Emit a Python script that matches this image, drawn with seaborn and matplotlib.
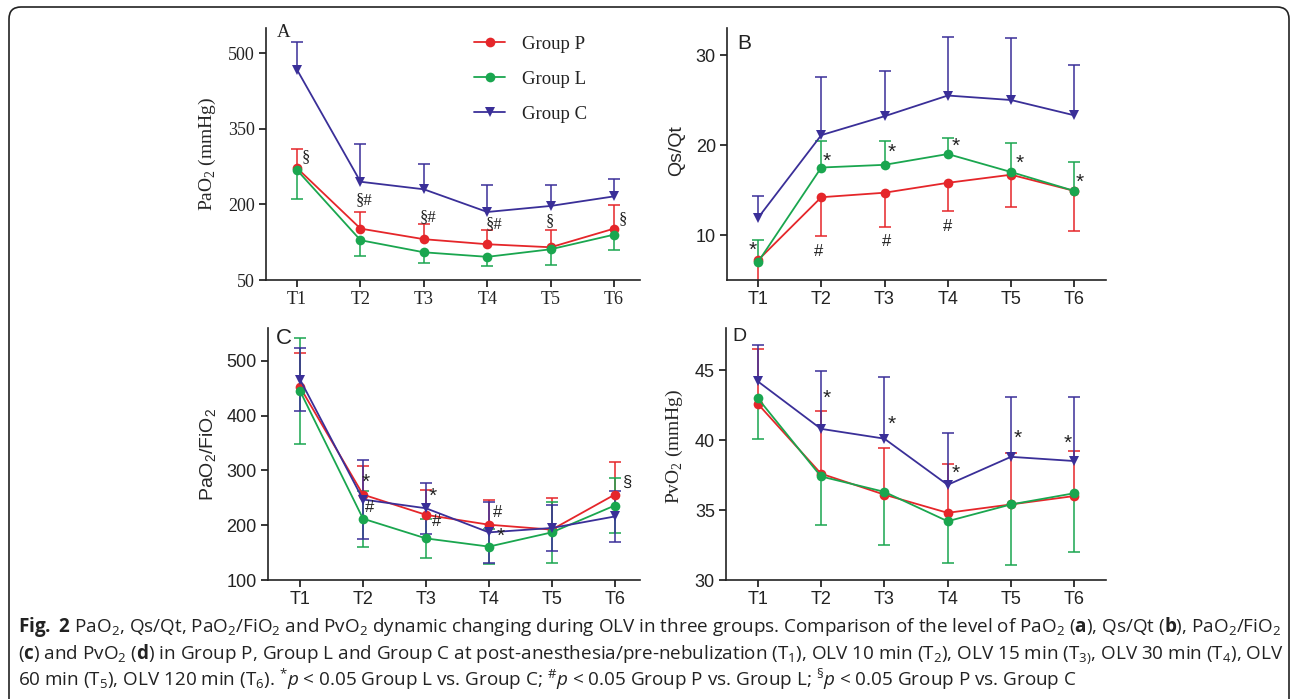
import numpy as np
import pandas as pd
import matplotlib
matplotlib.use("Agg")
import matplotlib.pyplot as plt
import seaborn as sns
from matplotlib.patches import FancyBboxPatch

times = ["T1", "T2", "T3", "T4", "T5", "T6"]
groups = ["Group P", "Group L", "Group C"]

# A: PaO2 (mmHg)
pao2_p = [272, 152, 131, 121, 115, 152]
pao2_l = [268, 129, 105, 96, 111, 140]
pao2_c = [467, 245, 230, 185, 197, 216]
pao2_p_sd = [37, 32, 30, 28, 35, 46]
pao2_l_sd = [58, 32, 21, 19, 32, 30]
pao2_c_sd = [56, 74, 50, 54, 41, 34]

# B: Qs/Qt
qsqt_p = [7.2, 14.2, 14.7, 15.8, 16.7, 14.9]
qsqt_l = [7.0, 17.5, 17.8, 19.0, 17.0, 14.9]
qsqt_c = [11.9, 21.1, 23.2, 25.5, 25.0, 23.3]
qsqt_p_sd = [2.5, 4.3, 3.8, 3.1, 3.6, 4.4]
qsqt_l_sd = [2.4, 2.9, 2.6, 1.8, 3.2, 3.2]
qsqt_c_sd = [2.4, 6.5, 5.0, 6.5, 6.9, 5.6]

# C: PaO2/FiO2
pf_p = [452, 256, 219, 201, 192, 256]
pf_l = [445, 212, 176, 161, 187, 236]
pf_c = [466, 247, 231, 187, 195, 216]
pf_p_sd = [62, 52, 46, 45, 58, 59]
pf_l_sd = [96, 51, 36, 32, 55, 51]
pf_c_sd = [58, 72, 47, 55, 42, 46]

# D: PvO2 (mmHg)
pvo2_p = [42.6, 37.6, 36.1, 34.8, 35.4, 36.0]
pvo2_l = [43.0, 37.4, 36.3, 34.2, 35.4, 36.2]
pvo2_c = [44.2, 40.8, 40.1, 36.8, 38.8, 38.5]
pvo2_p_sd = [3.9, 4.5, 3.3, 3.5, 3.7, 3.2]
pvo2_l_sd = [2.9, 3.5, 3.8, 3.0, 4.3, 4.2]
pvo2_c_sd = [2.6, 4.1, 4.4, 3.7, 4.3, 4.6]

# significance marks: (x position in time steps, y value, text)
marks_a = [(0.13, 294, "§"), (1.06, 209, "§#"), (2.07, 175, "§#"),
           (3.11, 161, "§#"), (3.99, 167, "§"), (5.14, 171, "§")]
marks_b = [(-0.08, 8.3, "*"), (0.95, 8.2, "#"), (2.03, 9.3, "#"), (3.0, 11.0, "#"),
           (1.09, 18.2, "*"), (2.12, 19.2, "*"), (3.12, 19.9, "*"),
           (4.13, 18.0, "*"), (5.09, 15.9, "*")]
marks_c = [(1.05, 278, "*"), (1.11, 232, "#"), (2.11, 252, "*"), (2.17, 206, "#"),
           (3.14, 223, "#"), (3.19, 179, "*"), (5.19, 278, "§")]
marks_d = [(1.09, 43.0, "*"), (2.11, 41.1, "*"), (3.12, 37.6, "*"),
           (4.10, 40.1, "*"), (4.90, 39.8, "*")]

palette = {"Group P": "#e5262a", "Group L": "#1aa64f", "Group C": "#3a2f98"}
markers = {"Group P": "o", "Group L": "o", "Group C": "v"}

sns.set_style("ticks")
plt.rcParams["mathtext.fontset"] = "custom"
plt.rcParams["mathtext.rm"] = "Open Sans"
plt.rcParams["mathtext.it"] = "Open Sans:italic"
plt.rcParams["mathtext.bf"] = "Open Sans:bold"
plt.rcParams["mathtext.sf"] = "Liberation Sans"
plt.rcParams["mathtext.cal"] = "Liberation Serif"
plt.rcParams["font.family"] = ["Liberation Sans", "DejaVu Sans"]

SERIF = ["Liberation Serif", "DejaVu Serif"]
SANS = ["Liberation Sans", "DejaVu Sans"]

fig = plt.figure(figsize=(12.92, 6.99), dpi=100)

border = FancyBboxPatch((0.09, -0.3), 12.80, 7.22, boxstyle="round,pad=0,rounding_size=0.12",
                        transform=fig.dpi_scale_trans, facecolor="none",
                        edgecolor="#222222", linewidth=1.2)
fig.patches.append(border)

panels = [
    dict(rect=[0.2059, 0.5994, 0.2895, 0.3605], vals=[pao2_p, pao2_l, pao2_c],
         sds=[pao2_p_sd, pao2_l_sd, pao2_c_sd], dirs=["up", "down", "up"],
         ylim=(50, 550), yticks=[50, 200, 350, 500], xlim=(-0.49, 5.41),
         ylabel=r"PaO$_\mathcal{2}$ (mmHg)", label_font=SERIF, tick_font=SERIF,
         label_xy=(-0.128, 0.5),
         letter="A", letter_font=SERIF, letter_size=13.5, letter_pos=(0.03, 1.016),
         marks=marks_a, legend=True),
    dict(rect=[0.5627, 0.5994, 0.2933, 0.3605], vals=[qsqt_p, qsqt_l, qsqt_c],
         sds=[qsqt_p_sd, qsqt_l_sd, qsqt_c_sd], dirs=["down", "up", "up"],
         ylim=(5, 33), yticks=[10, 20, 30], xlim=(-0.49, 5.5),
         ylabel="Qs/Qt", label_font=SANS, tick_font=SANS, label_xy=(-0.111, 0.512),
         letter="B", letter_font=SANS, letter_size=15, letter_pos=(0.026, 0.976),
         marks=marks_b, legend=False),
    dict(rect=[0.2074, 0.1702, 0.2879, 0.3605], vals=[pf_p, pf_l, pf_c],
         sds=[pf_p_sd, pf_l_sd, pf_c_sd], dirs=["up", "both", "both"],
         ylim=(100, 560), yticks=[100, 200, 300, 400, 500], xlim=(-0.51, 5.4),
         ylabel=r"PaO$_\mathsf{2}$/FiO$_\mathsf{2}$", label_font=SANS, tick_font=SANS,
         label_xy=(-0.134, 0.5),
         letter="C", letter_font=SANS, letter_size=16, letter_pos=(0.02, 1.0),
         marks=marks_c, legend=False),
    dict(rect=[0.5619, 0.1702, 0.2941, 0.3605], vals=[pvo2_p, pvo2_l, pvo2_c],
         sds=[pvo2_p_sd, pvo2_l_sd, pvo2_c_sd], dirs=["up", "down", "up"],
         ylim=(30, 48), yticks=[30, 35, 40, 45], xlim=(-0.5, 5.5),
         ylabel=r"PvO$_\mathcal{2}$ (mmHg)", label_font=SERIF, tick_font=SANS,
         label_xy=(-0.108, 0.53),
         letter="D", letter_font=SANS, letter_size=14, letter_pos=(0.018, 1.0),
         marks=marks_d, legend=False),
]

for p in panels:
    ax = fig.add_axes(p["rect"])
    df = pd.DataFrame({
        "time": times * 3,
        "group": np.repeat(groups, len(times)),
        "value": np.concatenate(p["vals"]),
    })
    sns.lineplot(data=df, x="time", y="value", hue="group", style="group",
                 hue_order=groups, style_order=groups, palette=palette,
                 markers=markers, dashes=False, markersize=7, markeredgewidth=0,
                 linewidth=1.3, zorder=3, legend=p["legend"], ax=ax)

    for g, v, s, d in zip(groups, p["vals"], p["sds"], p["dirs"]):
        v = np.array(v, dtype=float)
        s = np.array(s, dtype=float)
        lo = s if d in ("down", "both") else np.zeros_like(s)
        hi = s if d in ("up", "both") else np.zeros_like(s)
        _, caps, _ = ax.errorbar(times, v, yerr=[lo, hi], fmt="none", ecolor=palette[g],
                                 elinewidth=1.1, capsize=4.5, capthick=1.1, zorder=2)
        for cl in caps:
            if np.allclose(cl.get_ydata(), v):
                cl.set_visible(False)

    ax.set_xlim(*p["xlim"])
    ax.set_ylim(*p["ylim"])
    ax.set_xticks(range(len(times)), labels=times, fontsize=13,
                  fontfamily=p["tick_font"], color="#222222")
    ax.set_yticks(p["yticks"], labels=[str(t) for t in p["yticks"]], fontsize=13,
                  fontfamily=p["tick_font"], color="#222222")
    ax.set_xlabel("")
    ax.set_ylabel(p["ylabel"], fontsize=14, family=p["label_font"], labelpad=0)
    ax.yaxis.set_label_coords(*p["label_xy"])
    ax.tick_params(axis="both", direction="out", length=5, width=1.1, color="black", pad=3)
    sns.despine(ax=ax)
    for sp in ("left", "bottom"):
        ax.spines[sp].set_linewidth(1.2)
        ax.spines[sp].set_color("#222222")

    ax.text(p["letter_pos"][0], p["letter_pos"][1], p["letter"], transform=ax.transAxes,
            ha="left", va="top", fontsize=p["letter_size"], family=p["letter_font"],
            color="#222222")

    for x, y, t in p["marks"]:
        star = t == "*"
        ax.text(x, y, t, ha="center", va="center", fontsize=15 if star else 12,
                family=SANS if star else p["label_font"] if p["letter"] == "A" else SANS,
                color="#222222")

    if p["legend"]:
        leg = ax.get_legend()
        handles = leg.legend_handles
        labels = [t.get_text() for t in leg.get_texts()]
        for h in handles:
            h.set_linewidth(1.3)
            h.set_markersize(7)
            h.set_markeredgewidth(0)
        ax.legend(handles, labels, loc="upper left", bbox_to_anchor=(0.555, 0.97),
                  frameon=False, borderpad=0, borderaxespad=0, handlelength=1.7,
                  handletextpad=0.9, labelspacing=0.95,
                  prop={"family": SERIF, "size": 13.5}, labelcolor="#222222")

cap_lines = [
    r"$\mathbf{Fig.\ 2}$ PaO$_2$, Qs/Qt, PaO$_2$/FiO$_2$ and PvO$_2$ dynamic changing during OLV in three groups. "
    r"Comparison of the level of PaO$_2$ ($\mathbf{a}$), Qs/Qt ($\mathbf{b}$), PaO$_2$/FiO$_2$",
    r"($\mathbf{c}$) and PvO$_2$ ($\mathbf{d}$) in Group P, Group L and Group C at post-anesthesia/pre-nebulization "
    r"(T$_1$), OLV 10 min (T$_2$), OLV 15 min (T$_{3)}$, OLV 30 min (T$_4$), OLV",
    r"60 min (T$_5$), OLV 120 min (T$_6$). $^{*}\mathit{p}$ < 0.05 Group L vs. Group C; "
    r"$^{\#}\mathit{p}$ < 0.05 Group P vs. Group L; $^{§}\mathit{p}$ < 0.05 Group P vs. Group C",
]
cap_y = [632, 659, 686]
cap_texts = []
for line, yy in zip(cap_lines, cap_y):
    cap_texts.append(fig.text(18 / 1292, 1 - yy / 699, line, ha="left", va="baseline",
                              fontsize=11, family=["Open Sans", "DejaVu Sans"], color="#222222"))

fig.canvas.draw()
w = cap_texts[0].get_window_extent().width
scale = 1258 / w
for t in cap_texts:
    t.set_fontsize(11 * scale)

fig.savefig("out.png", dpi=100)
plt.close(fig)
